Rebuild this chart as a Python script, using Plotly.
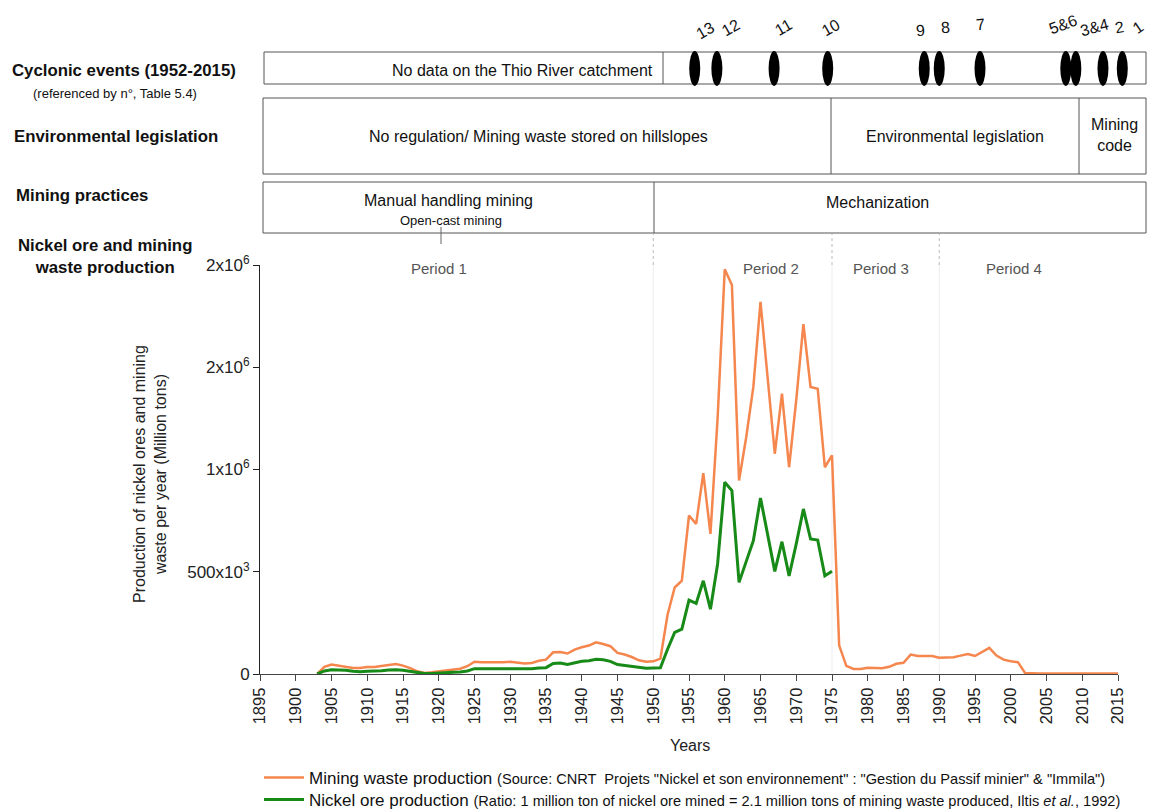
import plotly.graph_objects as go

# ---------------- data ----------------
years_waste = list(range(1903, 2016))
waste_tons = [
    0, 35000, 46000, 41000, 34000, 29000, 29000, 34000, 34000, 38000,          # 1903-1912
    44000, 49000, 41000, 29000, 13000, 5000, 8000, 13000, 18000, 21000,        # 1913-1922
    26000, 38000, 60000, 57000, 57000, 56000, 57000, 60000, 54000, 51000,      # 1923-1932
    54000, 65000, 70000, 106000, 108000, 100000, 119000, 131000, 139000, 155000,  # 1933-1942
    147000, 136000, 103000, 95000, 83000, 67000, 60000, 62000, 75000, 290000,  # 1943-1952
    423000, 456000, 775000, 734000, 982000, 685000, 1250000, 1979000, 1902000, 946000,  # 1953-1962
    1158000, 1404000, 1820000, 1453000, 1077000, 1371000, 1011000, 1340000, 1711000, 1404000,  # 1963-1972
    1395000, 1011000, 1069000, 140000, 40000, 25000, 25000, 30000, 30000, 28000,  # 1973-1982
    35000, 50000, 55000, 95000, 88000, 88000, 88000, 80000, 80000, 82000,      # 1983-1992
    90000, 98000, 88000, 110000, 128000, 90000, 70000, 62000, 58000, 5000,     # 1993-2002
    3000, 3000, 3000, 3000, 3000, 3000, 3000, 3000, 3000, 3000, 3000, 3000, 3000,  # 2003-2015
]

years_ore = list(range(1903, 1976))
ore_tons = [
    0, 15000, 21000, 21000, 18000, 13000, 11000, 13000, 13000, 16000,          # 1903-1912
    20000, 21000, 18000, 13000, 7000, 2000, 2000, 5000, 7000, 8000,            # 1913-1922
    10000, 15000, 26000, 26000, 26000, 26000, 26000, 28000, 26000, 25000,      # 1923-1932
    26000, 29000, 31000, 51000, 54000, 47000, 54000, 62000, 65000, 72000,      # 1933-1942
    70000, 62000, 46000, 41000, 36000, 31000, 28000, 29000, 30000, 121000,     # 1943-1952
    203000, 219000, 361000, 345000, 456000, 317000, 538000, 938000, 897000, 448000,  # 1953-1962
    546000, 652000, 861000, 685000, 502000, 647000, 480000, 636000, 807000, 660000,  # 1963-1972
    655000, 480000, 502000,                                                    # 1973-1975
]

x_ticks = list(range(1895, 2016, 5))
y_ticks = [0, 500000, 1000000, 1500000, 2000000]
y_tick_text = ["0", "500x10<sup>3</sup>", "1x10<sup>6</sup>", "2x10<sup>6</sup>", "2x10<sup>6</sup>"]

cyclone_years = [1955.8, 1958.9, 1966.9, 1974.4, 1987.9, 1990.0, 1995.7, 2007.7, 2009.1, 2012.9, 2015.6]
cyclone_labels = ["13", "12", "11", "10", "9", "8", "7", "5&amp;6", "3&amp;4", "2", "1"]

period_labels = ["Period 1", "Period 2", "Period 3", "Period 4"]
period_years = [1920.0, 1966.5, 1981.8, 2000.5]
period_bounds = [1950, 1975, 1990]

# ---------------- layout geometry (page pixels) ----------------
OFF = 8                      # default body margin of the page
W, H = 1155 - OFF, 810 - OFF
L, R, T, B = 260, 1118, 265, 674
XMIN, XMAX = 1895, 2015
YMAX = 2000000
BOX_RIGHT = 1146


def px2x(px):
    return (px - L) / (R - L)


def py2y(py):
    return (B - py) / (B - T)


def yr2x(yr):
    return (yr - XMIN) / (XMAX - XMIN)


FONT = "Liberation Sans, Arial, sans-serif"
ORANGE = "#f4864e"
GREEN = "#178a17"

fig = go.Figure()
fig.add_trace(go.Scatter(
    x=years_waste, y=waste_tons, mode="lines",
    line=dict(color=ORANGE, width=2.5), legend="legend",
    name='Mining waste production <span style="font-size:14.6px">(Source: CNRT  Projets "Nickel et son environnement" : "Gestion du Passif minier" &amp; "Immila")</span>',
))
fig.add_trace(go.Scatter(
    x=years_ore, y=ore_tons, mode="lines",
    line=dict(color=GREEN, width=3), legend="legend2",
    name='Nickel ore production <span style="font-size:14.6px">(Ratio: 1 million ton of nickel ore mined = 2.1 million tons of mining waste produced, Iltis <i>et al.</i>, 1992)</span>',
))

shapes = []
ann = []
BOX = dict(color="#555555", width=1)


def text(t, px, py, size=16, xanchor="center", angle=0, color="#111"):
    ann.append(dict(text=t, xref="paper", yref="paper", x=px2x(px), y=py2y(py),
                    xanchor=xanchor, yanchor="middle", showarrow=False, textangle=angle,
                    font=dict(size=size, color=color)))


# cyclone row
shapes.append(dict(type="rect", xref="paper", yref="paper", x0=px2x(264), x1=px2x(BOX_RIGHT),
                   y0=py2y(84), y1=py2y(52), line=BOX))
shapes.append(dict(type="line", xref="paper", yref="paper", x0=px2x(663), x1=px2x(663),
                   y0=py2y(84), y1=py2y(52), line=BOX))
hw = 5.5 / (R - L)
for yr in cyclone_years:
    xc = yr2x(yr)
    shapes.append(dict(type="circle", xref="paper", yref="paper", x0=xc - hw, x1=xc + hw,
                       y0=py2y(86), y1=py2y(51), fillcolor="black", line=dict(color="black", width=0)))

label_px = [705, 731, 783, 831, 920, 945, 980, 1063, 1094, 1119, 1138]
label_py = [30, 28, 27, 28, 30, 27, 25, 25, 27, 28, 28]
label_ang = [-30, -30, -30, -30, -5, -5, -5, -20, -15, -10, -35]
for lab, lx, ly, la in zip(cyclone_labels, label_px, label_py, label_ang):
    text(lab, lx, ly, size=16, angle=la)

text("No data on the Thio River catchment", 655, 70, xanchor="right")

# legislation row
shapes.append(dict(type="rect", xref="paper", yref="paper", x0=px2x(263), x1=px2x(BOX_RIGHT),
                   y0=py2y(174), y1=py2y(98), line=BOX))
for dx in [831, 1079]:
    shapes.append(dict(type="line", xref="paper", yref="paper", x0=px2x(dx), x1=px2x(dx),
                       y0=py2y(174), y1=py2y(98), line=BOX))
text("No regulation/ Mining waste stored on hillslopes", 538, 136)
text("Environmental legislation", 955, 137)
text("Mining<br>code", 1114, 135)

# mining practices row
shapes.append(dict(type="rect", xref="paper", yref="paper", x0=px2x(263), x1=px2x(BOX_RIGHT),
                   y0=py2y(233), y1=py2y(182), line=BOX))
shapes.append(dict(type="line", xref="paper", yref="paper", x0=px2x(654), x1=px2x(654),
                   y0=py2y(233), y1=py2y(182), line=BOX))
shapes.append(dict(type="line", xref="paper", yref="paper", x0=px2x(441), x1=px2x(441),
                   y0=py2y(244), y1=py2y(227), line=dict(color="#666", width=1)))
text("Manual handling mining", 448, 201)
text("Open-cast mining", 451, 221, size=13)
text("Mechanization", 877, 202)

# dotted connectors and faint period boundaries
for yb in period_bounds:
    xb = yr2x(yb)
    shapes.append(dict(type="line", xref="paper", yref="paper", x0=xb, x1=xb,
                       y0=py2y(265), y1=py2y(234), line=dict(color="#bbbbbb", width=1, dash="dot")))
    shapes.append(dict(type="line", xref="x", yref="paper", x0=yb, x1=yb,
                       y0=0, y1=1, line=dict(color="#eeeeee", width=1), layer="below"))

for lab, yr in zip(period_labels, period_years):
    ann.append(dict(text=lab, xref="x", yref="paper", x=yr, y=py2y(268),
                    xanchor="center", yanchor="middle",
                    showarrow=False, font=dict(size=15, color="#555")))

# left header labels
text("<b>Cyclonic events (1952-2015)</b>", 10, 70, size=16.8, xanchor="left")
text("(referenced by n°, Table 5.4)", 31, 94, size=13, xanchor="left")
text("<b>Environmental legislation</b>", 12, 137, size=16.8, xanchor="left")
text("<b>Mining practices</b>", 14, 195, size=16.8, xanchor="left")
text("<b>Nickel ore and mining</b><br><b>waste production</b>", 105, 257, size=16.8)

# axis titles
text("Production of nickel ores and mining<br>waste per year (Million tons)", 150, 474,
     size=16, angle=-90, color="#222")
text("Years", 690, 745, size=16, color="#222")

LEG = dict(xanchor="left", yanchor="middle", font=dict(size=17, color="#111"),
           itemwidth=40, bgcolor="rgba(0,0,0,0)")

fig.update_layout(
    width=W, height=H,
    margin=dict(l=L - OFF, r=W - (R - OFF), t=T - OFF, b=H - (B - OFF), autoexpand=False),
    paper_bgcolor="white", plot_bgcolor="white",
    font=dict(family=FONT, color="#222"),
    shapes=shapes, annotations=ann,
    showlegend=True,
    legend=dict(x=px2x(259), y=py2y(778), **LEG),
    legend2=dict(x=px2x(259), y=py2y(800), **LEG),
    xaxis=dict(range=[XMIN, XMAX], tickvals=x_ticks, tickangle=-90,
               tickfont=dict(size=16.5, color="#222"), showgrid=False, zeroline=False,
               showline=True, linecolor="#444", linewidth=1, ticks="outside", ticklen=6,
               tickcolor="#444"),
    yaxis=dict(range=[0, YMAX], tickvals=y_ticks, ticktext=y_tick_text,
               tickfont=dict(size=17, color="#222"), showgrid=False, zeroline=False,
               showline=True, linecolor="#222", linewidth=1, ticks="outside", ticklen=6,
               tickcolor="#222"),
)

fig.write_html("out.html")
